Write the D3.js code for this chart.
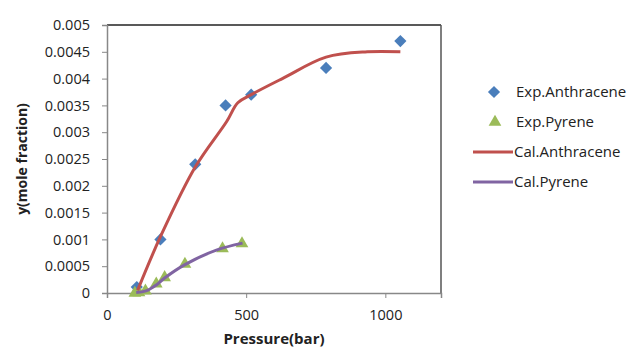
<!DOCTYPE html>
<html>
<head>
<meta charset="utf-8">
<script src="https://cdn.jsdelivr.net/npm/d3@7"></script>
<style>
  body { margin: 0; background: #fff; }
  text { font-family: "Open Sans", "Liberation Sans", sans-serif; fill: #222; }
</style>
</head>
<body>
<div id="chart"></div>
<script>
'use strict';
// values: [pressure (bar), y (mole fraction)]
const expAnthracene = [[107, 0.00011], [192, 0.001], [317, 0.0024], [426, 0.0035], [518, 0.0037], [787, 0.0042], [1054, 0.0047]];
const expPyrene = [[100, 0], [115, 0.00001], [138, 0.00004], [177, 0.00017], [207, 0.00029], [280, 0.00054], [415, 0.00083], [485, 0.00092]];
const calAnthracene = [[110, 0.00005], [192, 0.00105], [317, 0.00235], [430, 0.0032], [470, 0.00355], [518, 0.0037], [630, 0.004], [787, 0.0044], [935, 0.0045], [1054, 0.0045]];
const calPyrene = [[105, 0.00001], [140, 0.00004], [177, 0.00015], [207, 0.00028], [280, 0.00053], [393, 0.0008], [487, 0.00093]];
const xTicks = [0, 500, 1000];
const yTicks = [0, 0.0005, 0.001, 0.0015, 0.002, 0.0025, 0.003, 0.0035, 0.004, 0.0045, 0.005];
const legendItems = [
  {name: 'Exp.Anthracene', type: 'diamond', color: '#4a7ebb'},
  {name: 'Exp.Pyrene', type: 'triangle', color: '#9bbb59'},
  {name: 'Cal.Anthracene', type: 'line', color: '#c0504d'},
  {name: 'Cal.Pyrene', type: 'line', color: '#8064a2'}
];

const width = 641, height = 347;
const margin = {top: 25, left: 107, right: 200, bottom: 54};

const svg = d3.select('#chart').append('svg')
  .attr('width', width)
  .attr('height', height);

const x = d3.scaleLinear().domain([0, 1200]).range([margin.left, width - margin.right]);
const y = d3.scaleLinear().domain([0, 0.005]).range([height - margin.bottom, margin.top]);

// frame: top and right borders
svg.append('line')
  .attr('x1', x(0)).attr('x2', x(1200))
  .attr('y1', y(0.005)).attr('y2', y(0.005))
  .attr('stroke', '#222').attr('stroke-width', 1.5);
svg.append('line')
  .attr('x1', x(1200)).attr('x2', x(1200))
  .attr('y1', y(0.005)).attr('y2', y(0))
  .attr('stroke', '#555').attr('stroke-width', 1.5);

// y axis
const yAxis = svg.append('g')
  .attr('transform', `translate(${x(0)},0)`)
  .call(d3.axisLeft(y).tickValues(yTicks).tickSize(5).tickPadding(12).tickFormat(d => d === 0 ? '0' : String(+d.toFixed(4))));
yAxis.select('.domain').attr('stroke', '#888').attr('stroke-width', 1.5);
yAxis.selectAll('.tick line').attr('stroke', '#888');
yAxis.selectAll('.tick text').style('font-size', '14.5px').attr('fill', '#222');

// x axis
const xAxis = svg.append('g')
  .attr('transform', `translate(0,${y(0)})`)
  .call(d3.axisBottom(x).tickValues(xTicks).tickSize(5).tickPadding(12).tickFormat(d3.format('d')));
xAxis.select('.domain').attr('stroke', '#888').attr('stroke-width', 1.5);
xAxis.selectAll('.tick line').attr('stroke', '#888');
xAxis.selectAll('.tick text').style('font-size', '14.5px').attr('fill', '#222');

// axis titles
svg.append('text')
  .attr('x', 274)
  .attr('y', 339)
  .attr('dy', '0.35em')
  .attr('text-anchor', 'middle')
  .style('font-size', '15px')
  .style('font-weight', 'bold')
  .text('Pressure(bar)');

svg.append('text')
  .attr('transform', `translate(27,${(y(0) + y(0.005)) / 2})rotate(-90)`)
  .attr('text-anchor', 'middle')
  .style('font-size', '14px')
  .style('font-weight', 'bold')
  .text('y(mole fraction)');

const line = d3.line()
  .x(d => x(d[0]))
  .y(d => y(d[1]))
  .curve(d3.curveCatmullRom.alpha(0.5));

// experimental markers
const diamond = d3.symbol().type(d3.symbolDiamond2).size(95);
const triangle = d3.symbol().type(d3.symbolTriangle).size(70);

svg.append('g').selectAll('path')
  .data(expAnthracene)
  .enter()
  .append('path')
  .attr('d', diamond)
  .attr('transform', d => `translate(${x(d[0])},${y(d[1])})`)
  .attr('fill', '#4a7ebb');

svg.append('g').selectAll('path')
  .data(expPyrene)
  .enter()
  .append('path')
  .attr('d', triangle)
  .attr('transform', d => `translate(${x(d[0])},${y(d[1])})`)
  .attr('fill', '#9bbb59');

// calculated lines
svg.append('path')
  .datum(calAnthracene)
  .attr('d', line)
  .attr('fill', 'none')
  .attr('stroke', '#c0504d')
  .attr('stroke-width', 3);

svg.append('path')
  .datum(calPyrene)
  .attr('d', line)
  .attr('fill', 'none')
  .attr('stroke', '#8064a2')
  .attr('stroke-width', 3);

// legend
const legend = svg.append('g');
const rows = legend.selectAll('g')
  .data(legendItems)
  .enter()
  .append('g')
  .attr('transform', (d, i) => `translate(0,${92 + i * 30})`);

rows.each(function(d){
  const g = d3.select(this);
  if (d.type === 'diamond') {
    g.append('path').attr('d', diamond).attr('transform', 'translate(494,0)').attr('fill', d.color);
  } else if (d.type === 'triangle') {
    g.append('path').attr('d', triangle).attr('transform', 'translate(495,0)').attr('fill', d.color);
  } else {
    g.append('line').attr('x1', 473).attr('x2', 513).attr('y1', 0).attr('y2', 0)
      .attr('stroke', d.color).attr('stroke-width', 3);
  }
  g.append('text')
    .attr('x', d.type === 'line' ? 514 : 516)
    .attr('y', 0)
    .attr('dy', '0.35em')
    .style('font-size', '15px')
    .text(d.name);
});
</script>
</body>
</html>
